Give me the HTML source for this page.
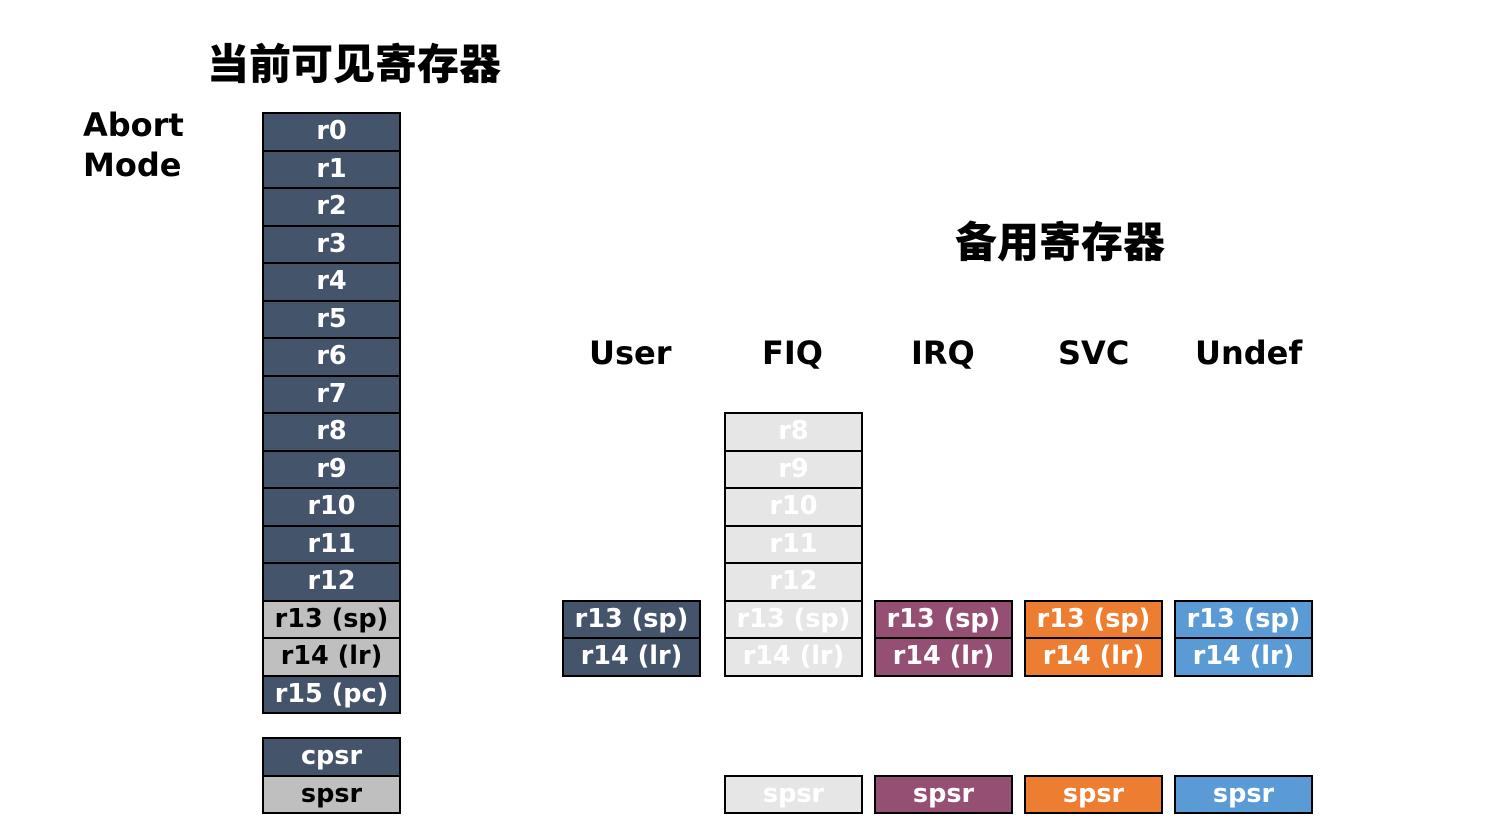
<!DOCTYPE html>
<html><head><meta charset="utf-8"><style>
body{margin:0;width:1501px;height:826px;background:#fff;position:relative;overflow:hidden;font-family:"DejaVu Sans","Liberation Sans",sans-serif;font-weight:bold}
.c{position:absolute;width:135px;height:35.5px;border:2px solid #000;box-sizing:content-box;text-align:center;line-height:35px;font-size:25.5px;color:#fff}
.d{background:#44546a}.g{background:#bfbfbf;color:#000}.f{background:#e6e6e6;color:#fff}.i{background:#954f72}.s{background:#ed7d31}.u{background:#5b9bd5}
.t{position:absolute;font-size:32px;color:#000;white-space:nowrap}
.h{position:absolute;font-family:"Noto Sans CJK SC",sans-serif;font-weight:900;font-size:42px;color:#000;white-space:nowrap}
</style></head><body>
<div class="h" style="left:207px;top:31px">当前可见寄存器</div>
<div class="h" style="left:955px;top:209px">备用寄存器</div>
<div class="t" style="left:83px;top:105px;line-height:40px">Abort<br>Mode</div>
<div class="t" style="left:589px;top:334px">User</div>
<div class="t" style="left:762px;top:334px">FIQ</div>
<div class="t" style="left:911px;top:334px">IRQ</div>
<div class="t" style="left:1058px;top:334px">SVC</div>
<div class="t" style="left:1195px;top:334px">Undef</div>
<div id="L"></div>
<script>
var h='';
var names=['r0','r1','r2','r3','r4','r5','r6','r7','r8','r9','r10','r11','r12','r13 (sp)','r14 (lr)','r15 (pc)'];
function cell(x,y,cls,t){h+='<div class="c '+cls+'" style="left:'+x+'px;top:'+y+'px">'+t+'</div>';}
for(var k=0;k<16;k++){var y=112+k*37.5;cell(262,y,(k==13||k==14)?'g':'d',names[k]);}
cell(262,737,'d','cpsr');cell(262,774.5,'g','spsr');
for(var k=8;k<15;k++){cell(724,412+(k-8)*37.5,'f',names[k]);}
cell(724,774.5,'f','spsr');
var cols=[[562,'d'],[874,'i'],[1024,'s'],[1174,'u']];
cols.forEach(function(c){cell(c[0],599.5,c[1],'r13 (sp)');cell(c[0],637,c[1],'r14 (lr)');if(c[1]!='d')cell(c[0],774.5,c[1],'spsr');});
document.getElementById('L').innerHTML=h;
</script>
</body></html>
